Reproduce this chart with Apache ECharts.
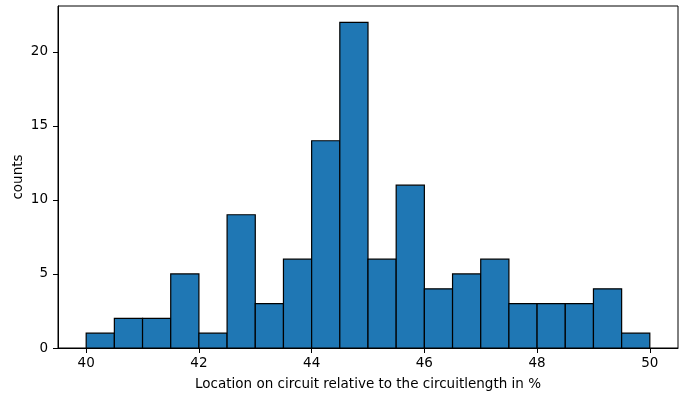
<!DOCTYPE html>
<html>
<head>
<meta charset="utf-8">
<script src="https://cdn.jsdelivr.net/npm/echarts@6/dist/echarts.min.js"></script>
<style>
html,body{margin:0;padding:0;background:#fff;}
#chart{width:694px;height:397px;}
</style>
</head>
<body>
<div id="chart"></div>
<script>
const binStart = 40;
const binWidth = 0.5;
const counts = [1, 2, 2, 5, 1, 9, 3, 6, 14, 22, 6, 11, 4, 5, 6, 3, 3, 3, 4, 1];
const xTicks = [40, 42, 44, 46, 48, 50];
const yTicks = [0, 5, 10, 15, 20];

const data = counts.map((c, i) => [binStart + i * binWidth, binStart + (i + 1) * binWidth, c]);

const chart = echarts.init(document.getElementById('chart'), null, {renderer: 'canvas'});
const font = 'DejaVu Sans';
chart.setOption({
  animation: false,
  backgroundColor: '#ffffff',
  grid: {left: 58, right: 16, top: 6, bottom: 49, outerBoundsMode: 'none', containLabel: false, show: true, borderColor: '#000', borderWidth: 1, backgroundColor: 'transparent'},
  xAxis: {
    type: 'value', min: 39.5, max: 50.5,
    name: 'Location on circuit relative to the circuitlength in %',
    nameLocation: 'middle', nameGap: 29, nameMoveOverlap: false,
    nameTextStyle: {fontFamily: font, fontSize: 13.5, color: '#000'},
    axisLine: {show: true, onZero: false, lineStyle: {color: '#000', width: 1}},
    axisTick: {show: true, length: 5, customValues: xTicks, lineStyle: {color: '#000'}},
    axisLabel: {customValues: xTicks, margin: 8, fontFamily: font, fontSize: 13.5, color: '#000'},
    splitLine: {show: false}
  },
  yAxis: {
    type: 'value', min: 0, max: 23.1,
    name: 'counts', nameLocation: 'middle', nameGap: 33, nameMoveOverlap: false,
    nameTextStyle: {fontFamily: font, fontSize: 13.5, color: '#000'},
    axisLine: {show: true, lineStyle: {color: '#000', width: 1}},
    axisTick: {show: true, length: 5, customValues: yTicks, lineStyle: {color: '#000'}},
    axisLabel: {customValues: yTicks, margin: 10, fontFamily: font, fontSize: 13.5, color: '#000'},
    splitLine: {show: false}
  },
  series: [{
    type: 'custom',
    data: data,
    encode: {x: [0, 1], y: 2},
    renderItem: function (params, api) {
      const p0 = api.coord([api.value(0), 0]);
      const p1 = api.coord([api.value(1), api.value(2)]);
      return {
        type: 'rect',
        shape: {x: p0[0], y: p1[1], width: p1[0] - p0[0], height: p0[1] - p1[1]},
        style: {fill: '#1f77b4', stroke: '#000', lineWidth: 1.2}
      };
    }
  }]
});
</script>
</body>
</html>
